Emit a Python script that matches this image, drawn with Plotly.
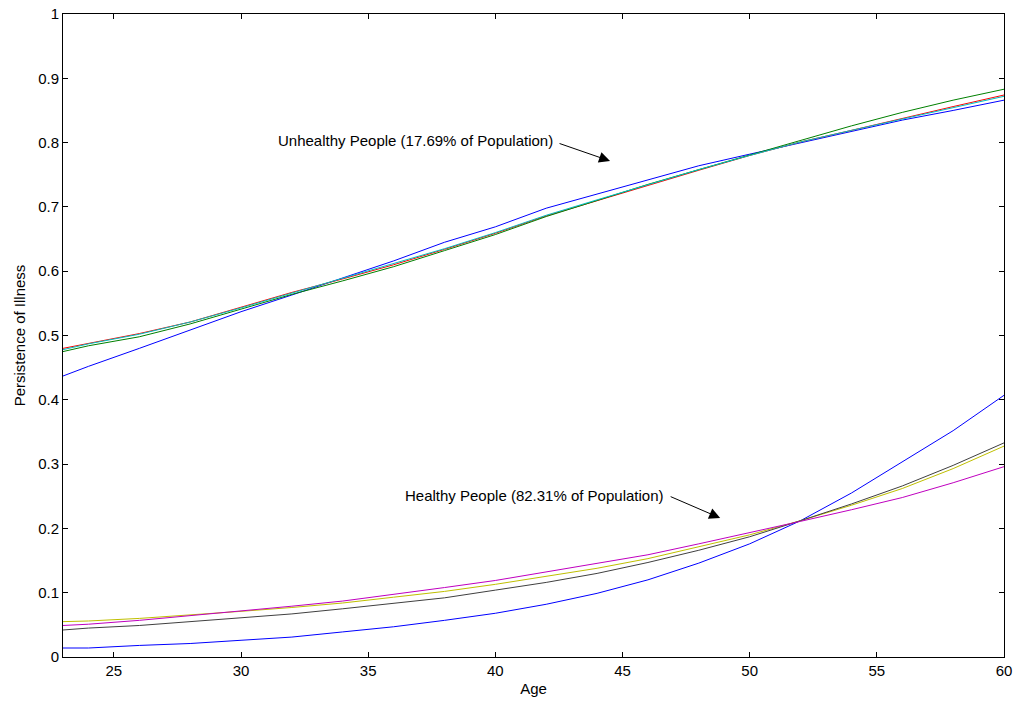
import plotly.graph_objects as go

ages = [23, 24, 26, 28, 30, 32, 34, 36, 38, 40, 42, 44, 46, 48, 50, 52, 54, 56, 58, 60]

# Unhealthy group
unhealthy_blue = [0.437, 0.452, 0.480, 0.508, 0.537, 0.563, 0.590, 0.616, 0.645, 0.669,
                  0.698, 0.720, 0.742, 0.764, 0.782, 0.800, 0.818, 0.835, 0.850, 0.866]
unhealthy_red = [0.480, 0.488, 0.503, 0.521, 0.544, 0.567, 0.588, 0.610, 0.634, 0.659,
                 0.686, 0.710, 0.734, 0.757, 0.780, 0.801, 0.819, 0.838, 0.856, 0.874]
unhealthy_green = [0.475, 0.484, 0.498, 0.518, 0.541, 0.564, 0.585, 0.607, 0.632, 0.657,
                   0.685, 0.710, 0.735, 0.758, 0.781, 0.804, 0.826, 0.847, 0.866, 0.883]
unhealthy_cyan = [0.478, 0.487, 0.502, 0.521, 0.543, 0.566, 0.588, 0.611, 0.635, 0.660,
                  0.687, 0.711, 0.735, 0.758, 0.780, 0.801, 0.819, 0.837, 0.855, 0.872]

# Healthy group
healthy_blue = [0.014, 0.014, 0.018, 0.021, 0.026, 0.031, 0.039, 0.047, 0.057, 0.068,
                0.082, 0.099, 0.120, 0.146, 0.176, 0.212, 0.255, 0.303, 0.352, 0.407]
healthy_black = [0.042, 0.045, 0.049, 0.055, 0.061, 0.067, 0.075, 0.083, 0.092, 0.104,
                 0.116, 0.130, 0.147, 0.166, 0.187, 0.212, 0.238, 0.266, 0.298, 0.333]
healthy_yellow = [0.055, 0.056, 0.060, 0.065, 0.071, 0.077, 0.084, 0.093, 0.102, 0.113,
                  0.125, 0.138, 0.153, 0.171, 0.190, 0.212, 0.236, 0.262, 0.293, 0.328]
healthy_magenta = [0.049, 0.051, 0.057, 0.064, 0.071, 0.079, 0.087, 0.097, 0.108, 0.119,
                   0.132, 0.145, 0.159, 0.176, 0.193, 0.211, 0.229, 0.248, 0.271, 0.296]

y_ticks = [0, 0.1, 0.2, 0.3, 0.4, 0.5, 0.6, 0.7, 0.8, 0.9, 1]
y_tick_labels = ["0", "0.1", "0.2", "0.3", "0.4", "0.5", "0.6", "0.7", "0.8", "0.9", "1"]
x_ticks = [25, 30, 35, 40, 45, 50, 55, 60]

series = [
    (unhealthy_blue, "#0000FF"),
    (unhealthy_red, "#FF0000"),
    (unhealthy_green, "#008000"),
    (unhealthy_cyan, "#00BFBF"),
    (healthy_blue, "#0000FF"),
    (healthy_yellow, "#BFBF00"),
    (healthy_black, "#404040"),
    (healthy_magenta, "#BF00BF"),
]

FONT = "Liberation Sans, Arial, sans-serif"
FS = 15

fig = go.Figure()
for vals, col in series:
    fig.add_trace(go.Scatter(x=ages, y=vals, mode="lines",
                             line=dict(color=col, width=1), showlegend=False,
                             hoverinfo="skip"))

# Text labels
fig.add_annotation(x=31.38, y=0.8025, xref="x", yref="y", text="Unhealthy People (17.69% of Population)",
                   showarrow=False, xanchor="left", yanchor="middle",
                   font=dict(family=FONT, size=FS, color="black"))
fig.add_annotation(x=36.37, y=0.2504, xref="x", yref="y", text="Healthy People (82.31% of Population)",
                   showarrow=False, xanchor="left", yanchor="middle",
                   font=dict(family=FONT, size=FS, color="black"))
# Arrows
fig.add_annotation(x=44.51, y=0.7714, xref="x", yref="y", text="", showarrow=True,
                   ax=-52, ay=-18, arrowhead=2, arrowsize=2.2, arrowwidth=1, arrowcolor="black",
                   standoff=0, startstandoff=0)
fig.add_annotation(x=48.84, y=0.2162, xref="x", yref="y", text="", showarrow=True,
                   ax=-51, ay=-22, arrowhead=2, arrowsize=2.2, arrowwidth=1, arrowcolor="black",
                   standoff=0, startstandoff=0)

axis_common = dict(showgrid=False, zeroline=False, showline=True, linecolor="black", linewidth=1,
                   mirror="allticks", ticks="inside", ticklen=5, tickcolor="black", tickwidth=1,
                   tickfont=dict(family=FONT, size=FS, color="black"))

fig.update_xaxes(range=[23, 60], tickvals=x_ticks, ticktext=[str(v) for v in x_ticks],
                 title=dict(text="Age", font=dict(family=FONT, size=FS, color="black"), standoff=5),
                 **axis_common)
fig.update_yaxes(range=[0, 1], tickvals=y_ticks, ticktext=y_tick_labels,
                 title=dict(text="Persistence of Illness", font=dict(family=FONT, size=FS, color="black"), standoff=8),
                 **axis_common)

fig.update_layout(width=1016, height=705, margin=dict(l=63, r=12, t=14, b=48, autoexpand=False),
                  plot_bgcolor="white", paper_bgcolor="white",
                  font=dict(family=FONT, size=FS, color="black"))

fig.write_html("out.html", config={"displayModeBar": False, "staticPlot": True},
               post_script="document.body.style.margin='0';document.body.style.padding='0';document.body.style.overflow='hidden';")
